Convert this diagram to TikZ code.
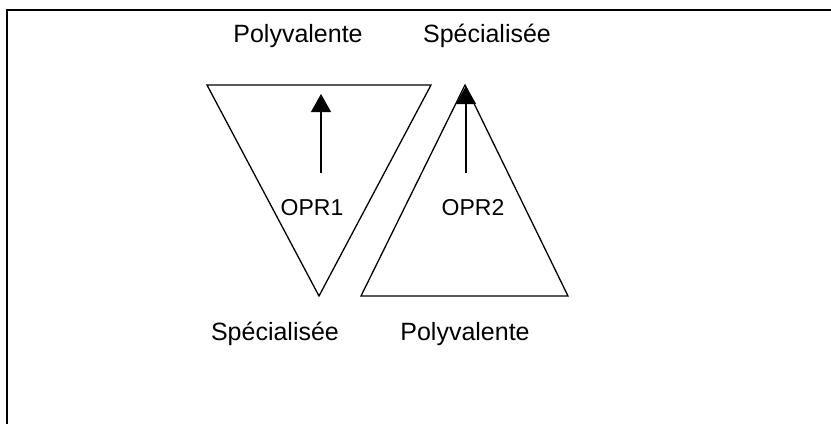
\documentclass[tikz,border=0pt]{standalone}
\usepackage{fontspec}
\setmainfont{Liberation Sans}
\usetikzlibrary{arrows.meta}
\begin{document}
\begin{tikzpicture}[x=1pt,y=-1pt,
  lbl/.style={anchor=base,inner sep=0pt,font=\fontsize{25}{30}\selectfont},
  opr/.style={anchor=base,inner sep=0pt,font=\fontsize{23}{28}\selectfont},
  tri/.style={draw,line width=1.3pt,line join=miter},
  upar/.style={line width=1.3pt,-{Triangle[length=18pt,width=20pt]}}]
\useasboundingbox (0,0) rectangle (831,424);
% frame (top and left only)
\draw[line width=2pt] (7,424) -- (7,10) -- (831,10);
% triangles
\coordinate (a1) at (207,85);
\coordinate (a2) at (431,85);
\coordinate (a3) at (319,296);
\coordinate (b1) at (465,85);
\coordinate (b2) at (568,296);
\coordinate (b3) at (361,296);
\draw[tri] (a1) -- (a2) -- (a3) -- cycle;
\draw[tri] (b1) -- (b2) -- (b3) -- cycle;
% arrows
\coordinate (s1) at (321,173);
\coordinate (t1) at (321,94);
\coordinate (s2) at (466,173);
\coordinate (t2) at (466,86);
\draw[upar] (s1) -- (t1);
\draw[upar] (s2) -- (t2);
% labels
\node[lbl] (p1) at (298,42) {Polyvalente};
\node[lbl] (s1l) at (487,42) {Spécialisée};
\node[lbl] (s2l) at (275,340) {Spécialisée};
\node[lbl] (p2) at (465,340) {Polyvalente};
\node[opr] (o1) at (312,215) {OPR1};
\node[opr] (o2) at (473,215) {OPR2};
\end{tikzpicture}
\end{document}
